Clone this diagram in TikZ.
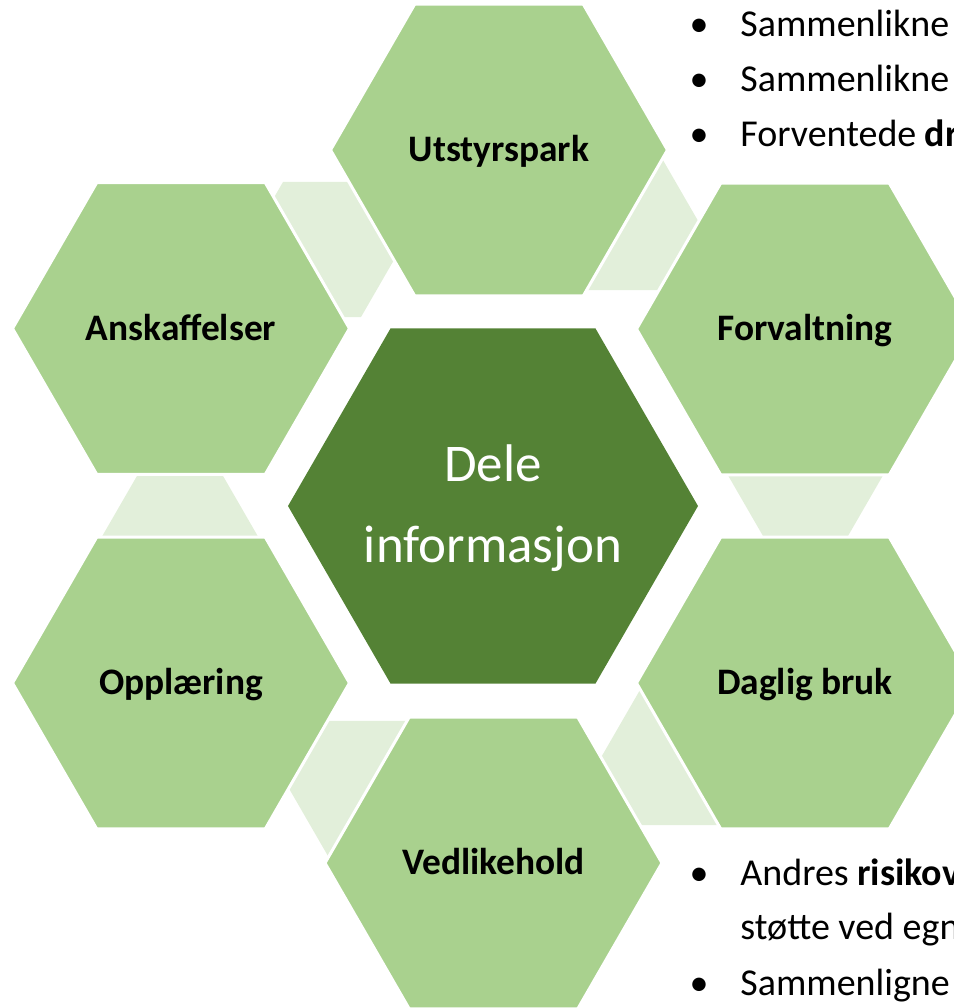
\documentclass[tikz,border=0pt]{standalone}
\usepackage{fontspec}
\setmainfont{Carlito}
\definecolor{hellgruen}{HTML}{A9D18E}
\definecolor{blassgruen}{HTML}{E2EFDA}
\definecolor{dunkelgruen}{HTML}{548235}
\begin{document}
\begin{tikzpicture}[x=0.5pt,y=-0.5pt]
\clip (0,0) rectangle (954,1008);
% kleine Sechsecke dahinter
\begin{scope}[fill=blassgruen]
	\fill (322,249.5) ++(0:78) to ++(120:78) to ++(180:78) to ++(240:78) to ++(300:78) to ++(0:78) to cycle;
	\fill (621,222.5) ++(0:78) to ++(120:78) to ++(180:78) to ++(240:78) to ++(300:78) to ++(0:78) to cycle;
	\fill (805.5,474.5) ++(0:78) to ++(120:78) to ++(180:78) to ++(240:78) to ++(300:78) to ++(0:78) to cycle;
	\fill (679,757.5) ++(0:78) to ++(120:78) to ++(180:78) to ++(240:78) to ++(300:78) to ++(0:78) to cycle;
	\fill (367,788.5) ++(0:78) to ++(120:78) to ++(180:78) to ++(240:78) to ++(300:78) to ++(0:78) to cycle;
	\fill (180,536.5) ++(0:78) to ++(120:78) to ++(180:78) to ++(240:78) to ++(300:78) to ++(0:78) to cycle;
\end{scope}
% aeussere Sechsecke
\begin{scope}[fill=hellgruen,draw=white,line width=1.5pt]
	\filldraw (499,150) ++(0:168.5) to ++(120:168.5) to ++(180:168.5) to ++(240:168.5) to ++(300:168.5) to ++(0:168.5) to cycle;
	\filldraw (181,328.5) ++(0:168.5) to ++(120:168.5) to ++(180:168.5) to ++(240:168.5) to ++(300:168.5) to ++(0:168.5) to cycle;
	\filldraw (805,329) ++(0:168.5) to ++(120:168.5) to ++(180:168.5) to ++(240:168.5) to ++(300:168.5) to ++(0:168.5) to cycle;
	\filldraw (181,683) ++(0:168.5) to ++(120:168.5) to ++(180:168.5) to ++(240:168.5) to ++(300:168.5) to ++(0:168.5) to cycle;
	\filldraw (805,683) ++(0:168.5) to ++(120:168.5) to ++(180:168.5) to ++(240:168.5) to ++(300:168.5) to ++(0:168.5) to cycle;
	\filldraw (493.5,863) ++(0:168.5) to ++(120:168.5) to ++(180:168.5) to ++(240:168.5) to ++(300:168.5) to ++(0:168.5) to cycle;
\end{scope}
% Mitte
\fill[dunkelgruen] (493,506) ++(0:205) to ++(120:205) to ++(180:205) to ++(240:205) to ++(300:205) to ++(0:205) to cycle;
\node[anchor=base,inner sep=0,text=white,font=\fontsize{26.5}{32}\selectfont] (dele) at (493,481) {Dele};
\node[anchor=base,inner sep=0,text=white,font=\fontsize{26.5}{32}\selectfont] (info) at (493,562) {informasjon};
% Beschriftungen
\begin{scope}[font=\fontsize{18.7}{22}\selectfont\bfseries,inner sep=0]
	\node[anchor=base] (utstyr) at (499,161.5) {Utstyrspark};
	\node[anchor=base] (anskaff) at (181,340) {Anskaffelser};
	\node[anchor=base] (forvalt) at (805,340.5) {Forvaltning};
	\node[anchor=base] (oppl) at (181,694.5) {Opplæring};
	\node[anchor=base] (daglig) at (805,694.5) {Daglig bruk};
	\node[anchor=base] (vedlike) at (493.5,874.5) {Vedlikehold};
\end{scope}
% Aufzaehlungen rechts
\begin{scope}[font=\fontsize{19}{22}\selectfont,inner sep=0]
	\node[anchor=base] (punkt1) at (699,36) {•};
	\node[anchor=base west] (zeile1) at (740,36) {Sammenlikne};
	\node[anchor=base] (punkt2) at (699,91) {•};
	\node[anchor=base west] (zeile2) at (740,91) {Sammenlikne};
	\node[anchor=base] (punkt3) at (699,146.5) {•};
	\node[anchor=base west] (zeile3) at (740,146.5) {Forventede \textbf{dr}};
	\node[anchor=base] (punkt4) at (699,885) {•};
	\node[anchor=base west] (zeile4) at (740,885) {Andres \textbf{risikov}};
	\node[anchor=base west] (zeile5) at (740,939) {støtte ved egn};
	\node[anchor=base] (punkt6) at (699,995) {•};
	\node[anchor=base west] (zeile6) at (740,995) {Sammenligne};
\end{scope}
\end{tikzpicture}
\end{document}
